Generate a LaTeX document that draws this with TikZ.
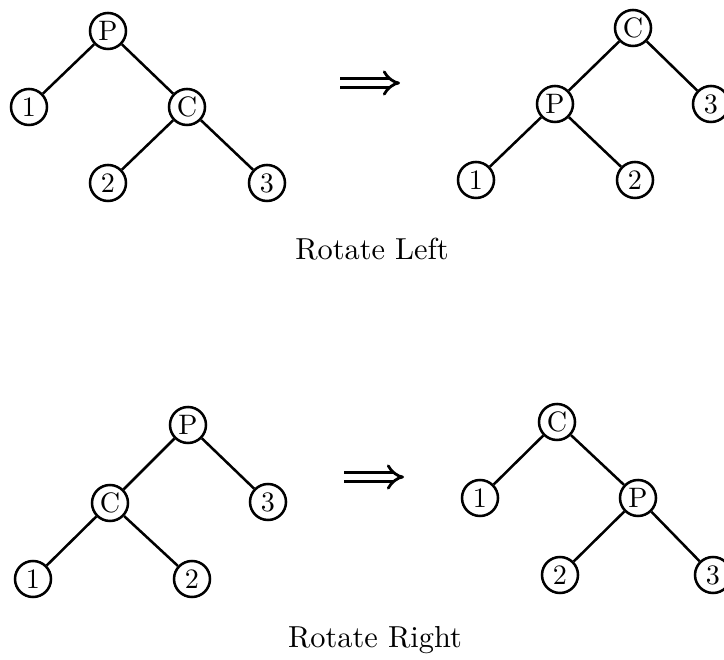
\documentclass[tikz,border=0pt]{standalone}
\usetikzlibrary{arrows.meta}
\begin{document}
\begin{tikzpicture}[x=0.125mm,y=-0.125mm,
    vx/.style={draw,line width=0.9pt,circle,minimum size=4.5mm,inner sep=0pt},
    ln/.style={line width=0.9pt},
    impl/.style={line width=1pt,double distance=2pt,-{Implies}},
    lbl/.style={font=\fontsize{10.8pt}{13pt}\selectfont}]
    \useasboundingbox (0,0) rectangle (724,660);
    % rotate left
    \node[vx] (aP) at (108,31) {P};  \node[vx] (a1) at (29,107) {1};
    \node[vx] (aC) at (187,107) {C}; \node[vx] (a2) at (108,183) {2};
    \node[vx] (a3) at (267,183) {3};
    \draw[ln] (aP)--(a1); \draw[ln] (aP)--(aC);
    \draw[ln] (aC)--(a2); \draw[ln] (aC)--(a3);
    \coordinate (lA) at (340,83); \coordinate (lB) at (400,83);
    \draw[impl] (lA)--(lB);
    \node[vx] (bC) at (633,28) {C};  \node[vx] (bP) at (555,104) {P};
    \node[vx] (b3) at (711,104) {3}; \node[vx] (b1) at (476,180) {1};
    \node[vx] (b2) at (635,180) {2};
    \draw[ln] (bC)--(bP); \draw[ln] (bC)--(b3);
    \draw[ln] (bP)--(b1); \draw[ln] (bP)--(b2);
    \node[lbl] (capL) at (372,249) {Rotate Left};
    % rotate right
    \node[vx] (cP) at (188,425) {P}; \node[vx] (cC) at (110,503) {C};
    \node[vx] (c3) at (268,502) {3}; \node[vx] (c1) at (33,579) {1};
    \node[vx] (c2) at (192,579) {2};
    \draw[ln] (cP)--(cC); \draw[ln] (cP)--(c3);
    \draw[ln] (cC)--(c1); \draw[ln] (cC)--(c2);
    \coordinate (rA) at (344,477); \coordinate (rB) at (404,477);
    \draw[impl] (rA)--(rB);
    \node[vx] (dC) at (557,422) {C}; \node[vx] (d1) at (480,498) {1};
    \node[vx] (dP) at (638,498) {P}; \node[vx] (d2) at (560,575) {2};
    \node[vx] (d3) at (713,575) {3};
    \draw[ln] (dC)--(d1); \draw[ln] (dC)--(dP);
    \draw[ln] (dP)--(d2); \draw[ln] (dP)--(d3);
    \node[lbl] (capR) at (375,640) {Rotate Right};
\end{tikzpicture}
\end{document}
